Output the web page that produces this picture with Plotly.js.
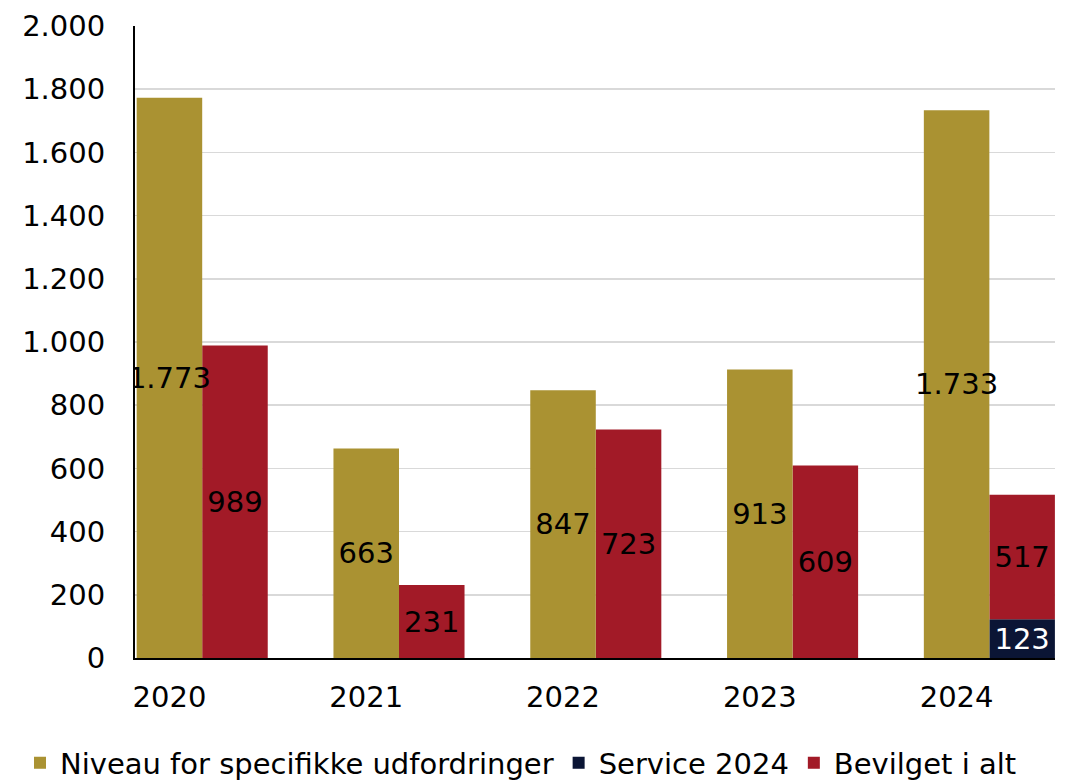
<!DOCTYPE html>
<html>
<head>
<meta charset="utf-8">
<script src="https://cdn.plot.ly/plotly-3.0.1.min.js"></script>
<style>
  html, body { margin: 0; padding: 0; background: #fff; }
  #chart { width: 1082px; height: 780px; }
</style>
</head>
<body>
<div id="chart"></div>
<script>
// ---- data ----
const years = ['2020', '2021', '2022', '2023', '2024'];
const niveau = [1773, 663, 847, 913, 1733];      // Niveau for specifikke udfordringer
const service = [0, 0, 0, 0, 123];               // Service 2024
const bevilget = [989, 231, 723, 609, 517];      // Bevilget i alt (total)
const yTicks = [0, 200, 400, 600, 800, 1000, 1200, 1400, 1600, 1800, 2000];

// ---- helpers ----
const fmt = v => v.toLocaleString('da-DK');
const W = 0.333;
const FONT = 'DejaVu Sans, sans-serif';
const FS = 29;

const traceService = {
  type: 'bar', name: 'Service 2024', legendrank: 2,
  x: years, y: service,
  width: W, offset: W / 2,
  marker: { color: '#0B1535' },
  text: service.map(v => v ? fmt(v) : ''), textposition: 'inside', insidetextanchor: 'middle', textangle: 0,
  textfont: { family: FONT, size: FS, color: '#fff' },
  constraintext: 'none',
  hoverinfo: 'skip'
};
const traceBevilget = {
  type: 'bar', name: 'Bevilget i alt', legendrank: 3,
  x: years, y: bevilget.map((v, i) => v - service[i]), base: service,
  width: W, offset: W / 2,
  marker: { color: '#A21A27' },
  text: bevilget.map(fmt), textposition: 'inside', insidetextanchor: 'middle', textangle: 0,
  textfont: { family: FONT, size: FS, color: '#000' },
  constraintext: 'none',
  hoverinfo: 'skip'
};
const traceNiveau = {
  type: 'bar', name: 'Niveau for specifikke udfordringer', legendrank: 1,
  x: years, y: niveau,
  width: W, offset: -W / 2,
  marker: { color: '#AA9232' },
  text: niveau.map(fmt), textposition: 'inside', insidetextanchor: 'middle', textangle: 0,
  textfont: { family: FONT, size: FS, color: '#000' },
  constraintext: 'none',
  hoverinfo: 'skip'
};

const layout = {
  width: 1082, height: 780,
  margin: { l: 135, r: 27, t: 26, b: 122, autoexpand: false },
  paper_bgcolor: '#fff', plot_bgcolor: '#fff',
  separators: ',.',
  barmode: 'overlay',
  font: { family: FONT, size: FS, color: '#000' },
  uniformtext: { minsize: FS, mode: 'show' },
  showlegend: true,
  legend: {
    orientation: 'h',
    x: -0.125, xanchor: 'left', y: -0.166, yanchor: 'middle',
    font: { family: FONT, size: 29, color: '#000' },
    itemclick: false, itemwidth: 30
  },
  xaxis: {
    type: 'category', range: [-0.175, 4.5],
    showgrid: false, zeroline: false,
    showline: true, linecolor: '#000', linewidth: 2,
    ticks: '', ticklabelstandoff: 12,
    tickfont: { family: FONT, size: FS, color: '#000' }
  },
  yaxis: {
    range: [0, 2000], tickvals: yTicks, ticktext: yTicks.map(fmt),
    showgrid: true, gridcolor: '#d9d9d9', gridwidth: 1.5,
    zeroline: false, showline: true, linecolor: '#000', linewidth: 2,
    ticks: '', ticklabelstandoff: 22,
    tickfont: { family: FONT, size: FS, color: '#000' }
  }
};

Plotly.newPlot('chart', [traceService, traceBevilget, traceNiveau], layout, { displayModeBar: false, staticPlot: true });
</script>
</body>
</html>
